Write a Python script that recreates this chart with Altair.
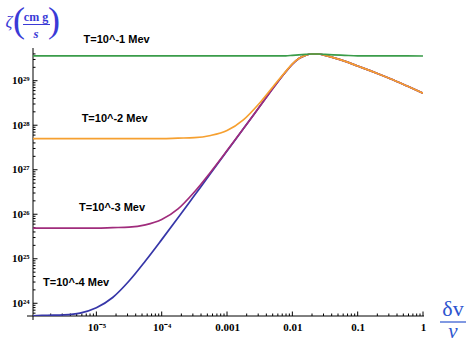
import altair as alt
import pandas as pd

# ---- data (log10 of δv/v and log10 of ζ) ----
log_x = [-5.97, -5.75, -5.5, -5.25, -5.0, -4.75, -4.5, -4.25, -4.0, -3.75,
         -3.5, -3.25, -3.0, -2.75, -2.5, -2.25, -2.1, -2.0, -1.9, -1.8,
         -1.7, -1.6, -1.5, -1.375, -1.2, -1.0, -0.8, -0.66, -0.5, -0.25, 0.0]

blue_log_y = [23.72, 23.73, 23.74, 23.78, 23.90, 24.13, 24.50, 24.95, 25.43, 25.92,
              26.42, 26.92, 27.42, 27.92, 28.42, 28.92, 29.20, 29.37, 29.50, 29.57,
              29.60, 29.60, 29.57, 29.52, 29.44, 29.33, 29.22, 29.14, 29.045, 28.885, 28.72]
purple_log_y = [25.69, 25.69, 25.69, 25.69, 25.69, 25.70, 25.71, 25.76, 25.88, 26.12,
                26.50, 26.95, 27.43, 27.92, 28.42, 28.92, 29.20, 29.37, 29.50, 29.57,
                29.60, 29.60, 29.57, 29.52, 29.44, 29.33, 29.22, 29.14, 29.045, 28.885, 28.72]
orange_log_y = [27.70, 27.70, 27.70, 27.70, 27.70, 27.70, 27.70, 27.70, 27.70, 27.71,
                27.72, 27.77, 27.88, 28.12, 28.50, 28.95, 29.21, 29.38, 29.50, 29.57,
                29.60, 29.60, 29.57, 29.52, 29.44, 29.33, 29.22, 29.14, 29.045, 28.885, 28.72]
green_log_y = [29.56, 29.56, 29.56, 29.56, 29.56, 29.56, 29.56, 29.56, 29.56, 29.56,
               29.56, 29.56, 29.56, 29.56, 29.56, 29.56, 29.56, 29.57, 29.58, 29.59,
               29.60, 29.60, 29.59, 29.58, 29.57, 29.56, 29.56, 29.56, 29.56, 29.56, 29.555]

series_names = ["T=10^-4 Mev", "T=10^-3 Mev", "T=10^-2 Mev", "T=10^-1 Mev"]
series_values = [blue_log_y, purple_log_y, orange_log_y, green_log_y]
series_colors = ["#3636a8", "#a02c7c", "#f6a030", "#3a9c4a"]

label_texts = ["T=10^-1 Mev", "T=10^-2 Mev", "T=10^-3 Mev", "T=10^-4 Mev"]
label_log_x = [-4.69, -4.72, -4.76, -5.31]
label_log_y = [29.92, 28.135, 26.15, 24.46]

x_tick_values = [1e-5, 1e-4, 1e-3, 1e-2, 1e-1, 1.0]
x_tick_labels = ["10⁻⁵", "10⁻⁴", "0.001", "0.01", "0.1", "1"]
y_tick_values = [1e24, 1e25, 1e26, 1e27, 1e28, 1e29]
y_tick_labels = ["10²⁴", "10²⁵", "10²⁶", "10²⁷", "10²⁸", "10²⁹"]

# ---- layout ----
W, H = 390, 266
PL, PT = 33, 50
x_dom = [10 ** -5.97, 1.0]
y_dom = [10 ** 23.714, 10 ** 29.69]

x_minor = [m * 10.0 ** e for e in range(-6, 0) for m in range(2, 10)
           if x_dom[0] <= m * 10.0 ** e <= x_dom[1]]
y_minor = [m * 10.0 ** e for e in range(23, 30) for m in range(2, 10)
           if y_dom[0] <= m * 10.0 ** e <= y_dom[1]]

x_scale = alt.Scale(type="log", domain=x_dom, nice=False)
y_scale = alt.Scale(type="log", domain=y_dom, nice=False)

x_expr = "[" + ",".join("'%s'" % s for s in x_tick_labels) + "][round(log(datum.value)/LN10)+5]"
y_expr = "[" + ",".join("'%s'" % s for s in y_tick_labels) + "][round(log(datum.value)/LN10)-24]"

x_axis = alt.Axis(values=x_tick_values, labelExpr=x_expr, title=None, grid=False,
                  ticks=False, domain=False, labelFont="Liberation Serif",
                  labelFontSize=11, labelFontWeight="bold", labelColor="black",
                  labelPadding=5, labelOverlap=False, labelFlush=False)
y_axis = alt.Axis(values=y_tick_values, labelExpr=y_expr, title=None, grid=False,
                  ticks=False, domain=False, labelFont="Liberation Serif",
                  labelFontSize=11, labelFontWeight="bold", labelColor="black",
                  labelPadding=4, labelOverlap=False, labelFlush=False)

X = alt.X("x:Q", scale=x_scale, axis=x_axis)
Y = alt.Y("y:Q", scale=y_scale, axis=y_axis)

layers = []

# axis lines
one = pd.DataFrame({"k": [0]})
layers.append(alt.Chart(one).mark_rule(color="black", strokeWidth=1).encode(
    x=alt.value(-6), x2=alt.value(W + 1), y=alt.value(H)))
layers.append(alt.Chart(one).mark_rule(color="black", strokeWidth=1).encode(
    x=alt.value(0), y=alt.value(-2), y2=alt.value(H + 4)))

# ticks (inward)
layers.append(alt.Chart(pd.DataFrame({"x": x_tick_values})).mark_rule(color="black").encode(
    x=X, y=alt.value(H), y2=alt.value(H - 4.5)))
layers.append(alt.Chart(pd.DataFrame({"x": x_minor})).mark_rule(color="black").encode(
    x=X, y=alt.value(H), y2=alt.value(H - 2.5)))
layers.append(alt.Chart(pd.DataFrame({"y": y_tick_values})).mark_rule(color="black").encode(
    y=Y, x=alt.value(0), x2=alt.value(4.5)))
layers.append(alt.Chart(pd.DataFrame({"y": y_minor})).mark_rule(color="black").encode(
    y=Y, x=alt.value(0), x2=alt.value(2.5)))

# curves
for name, vals, col in zip(series_names, series_values, series_colors):
    d = pd.DataFrame({"x": [10 ** v for v in log_x], "y": [10 ** v for v in vals],
                      "series": name})
    layers.append(alt.Chart(d).mark_line(color=col, strokeWidth=1.7,
                                         interpolate="monotone", clip=True).encode(
        x=X, y=Y, detail="series:N"))

# curve labels
lab = pd.DataFrame({"x": [10 ** v for v in label_log_x],
                    "y": [10 ** v for v in label_log_y], "label": label_texts})
layers.append(alt.Chart(lab).mark_text(font="Liberation Sans", fontSize=11,
                                       fontWeight="bold", color="black",
                                       baseline="middle").encode(x=X, y=Y, text="label:N"))

# axis titles
TC = "#3a3ad6"
XC = "#2d55cf"
def txt(s, x, y, size, color, style="normal", weight="normal"):
    return alt.Chart(one).mark_text(font="Liberation Serif", fontSize=size, color=color,
                                    fontStyle=style, fontWeight=weight,
                                    baseline="middle", align="center").encode(
        x=alt.value(x), y=alt.value(y), text=alt.value(s))

layers.append(txt("ζ", -24, -28, 17, TC, style="italic"))
layers.append(txt("(", -14, -29, 36, TC))
layers.append(txt("cm g", 3, -33, 12, TC, weight="bold"))
layers.append(alt.Chart(one).mark_rule(color=TC, strokeWidth=1).encode(
    x=alt.value(-10), x2=alt.value(17), y=alt.value(-25.5)))
layers.append(txt("s", 3, -16, 13, TC, style="italic", weight="bold"))
layers.append(txt(")", 21, -29, 36, TC))

layers.append(txt("δv", 420, 259, 22, XC))
layers.append(alt.Chart(one).mark_rule(color=XC, strokeWidth=1.2).encode(
    x=alt.value(407), x2=alt.value(433), y=alt.value(272)))
layers.append(txt("v", 420, 282, 21, XC, style="italic"))

chart = alt.layer(*layers).properties(
    width=W, height=H,
    padding={"left": PL, "top": PT, "right": 467 - PL - W, "bottom": 342 - PT - H},
    autosize=alt.AutoSizeParams(type="none"),
    background="white",
).configure_view(stroke=None)

chart.save("out.html", embed_options={"renderer": "svg", "actions": False})
